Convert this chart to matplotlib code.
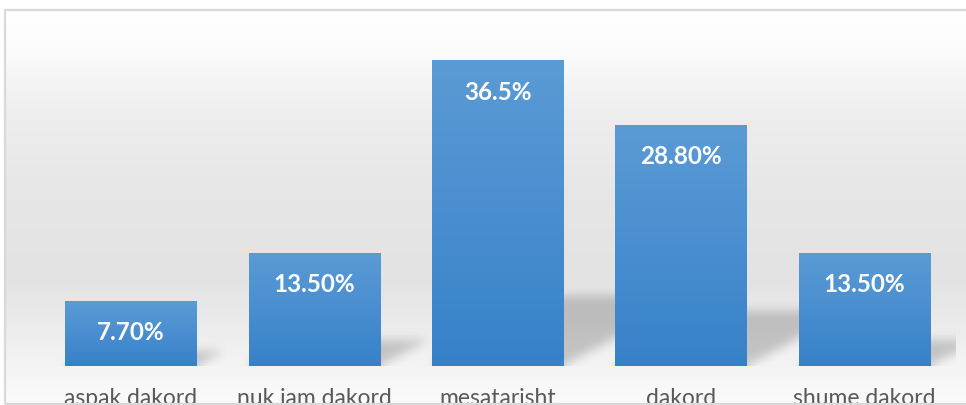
import matplotlib
matplotlib.use("Agg")
import matplotlib.pyplot as plt
import numpy as np
from matplotlib.colors import LinearSegmentedColormap
from matplotlib.patches import Rectangle

categories = ["aspak dakord", "nuk jam dakord", "mesatarisht", "dakord", "shume dakord"]
values = [7.7, 13.5, 36.5, 28.8, 13.5]
value_labels = ["7.70%", "13.50%", "36.5%", "28.80%", "13.50%"]

W, H, DPI = 966, 405, 100
FONT = ["Lato", "DejaVu Sans"]

fig = plt.figure(figsize=(W / DPI, H / DPI), dpi=DPI)
fig.patch.set_facecolor("white")

# background panel with soft vertical gradient (pixel coords, y from top)
bg = fig.add_axes([0, 0, 1, 1], zorder=-2)
bg.set_xlim(0, W)
bg.set_ylim(H, 0)
bg.axis("off")
stops_y = np.array([10, 40, 120, 200, 280, 320, 366, 404])
stops_g = np.array([255, 253, 237, 230, 227, 234, 244, 251]) / 255.0
yy = np.linspace(10, 404, 400)
g = np.interp(yy, stops_y, stops_g)
grad = np.repeat(g[:, None], 2, axis=1)
bg.imshow(np.dstack([grad, grad, grad]), extent=[5, W, 404, 10], aspect="auto",
          interpolation="bilinear")

# main axes
left, bottom, width, height = 39 / W, (H - 366) / H, 917 / W, 334.4 / H
ax = fig.add_axes([left, bottom, width, height], zorder=0)
ax.set_facecolor("none")
ymax = 40
ax.set_xlim(-0.5, len(categories) - 0.5)
ax.set_ylim(0, ymax)
for s in ax.spines.values():
    s.set_visible(False)
ax.set_yticks([])
x = np.arange(len(categories))
ax.set_xticks(x)
ax.set_xticklabels(categories, fontsize=16.5, color="#595959", family=FONT)
ax.tick_params(axis="x", length=0, pad=15.5)

bw = 0.715
bars = ax.bar(x, values, width=bw, color="#4a8fd0", zorder=2)

# perspective shadows, rasterised in axes pixels and blurred
nx, ny = 917, 334
px_x = nx / len(categories)
px_y = ny / ymax
X, Y = np.meshgrid(np.arange(nx) + 0.5, np.arange(ny) + 0.5)  # Y up from baseline
mask = np.zeros((ny, nx))
for xi, v in zip(x, values):
    x0 = (xi - bw / 2 + 0.5) * px_x
    x1 = (xi + bw / 2 + 0.5) * px_x
    dy = 0.23 * v * px_y
    k = 1.85
    inside = (Y <= dy) & (X >= x0 + k * Y) & (X <= x1 + k * Y)
    mask[inside] = 1.0


def blur(a, sigma):
    r = int(3 * sigma)
    t = np.arange(-r, r + 1)
    kern = np.exp(-t ** 2 / (2 * sigma ** 2))
    kern /= kern.sum()
    a = np.pad(a, ((r, r), (r, r)), mode="edge")
    a = np.apply_along_axis(lambda row: np.convolve(row, kern, mode="same"), 1, a)
    a = np.apply_along_axis(lambda col: np.convolve(col, kern, mode="same"), 0, a)
    return a[r:-r, r:-r]


mask = blur(mask, 5)
shadow = np.zeros((ny, nx, 4))
shadow[..., 3] = 0.19 * mask
ax.imshow(shadow, extent=[-0.5, len(categories) - 0.5, 0, ymax], origin="lower",
          aspect="auto", zorder=1, interpolation="bilinear")

# bar gradient fill
bar_cmap = LinearSegmentedColormap.from_list("bar", ["#3781ca", "#5b9bd5"])
col = np.linspace(0, 1, 256)[:, None]
for b in bars:
    bx, bh, bwid = b.get_x(), b.get_height(), b.get_width()
    ax.imshow(col, cmap=bar_cmap, extent=[bx, bx + bwid, 0, bh], origin="lower",
              aspect="auto", zorder=2.5, interpolation="bilinear")

for xi, v, lab in zip(x, values, value_labels):
    ax.annotate(lab, (xi, v), xytext=(0, -22.5), textcoords="offset points",
                ha="center", va="center", color="white", fontsize=17.5,
                fontweight="bold", family=FONT, zorder=4)

ax.set_xlim(-0.5, len(categories) - 0.5)
ax.set_ylim(0, ymax)

# outer frame
frame = Rectangle((5 / W, 1.5 / H), 1.2, (H - 10 - 1.5) / H, transform=fig.transFigure,
                  fill=False, edgecolor="#d9d9d9", linewidth=1.6, zorder=10)
fig.patches.append(frame)

fig.savefig("out.png", dpi=DPI)
